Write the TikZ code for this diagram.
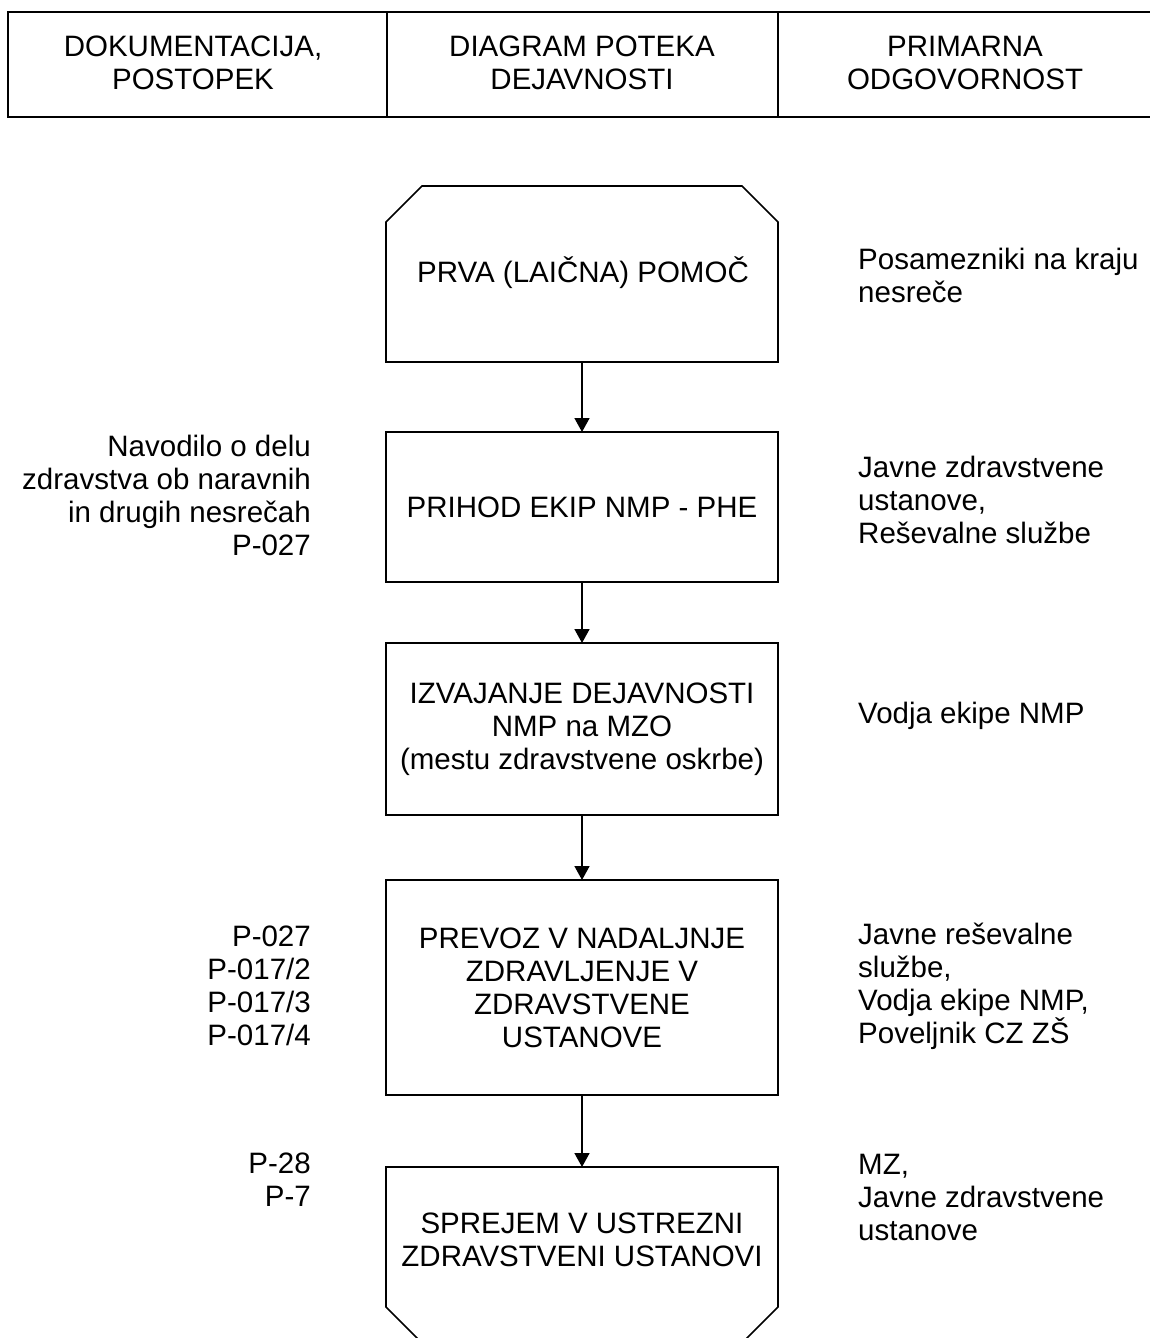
\documentclass[tikz,border=0pt]{standalone}
\usepackage{fontspec}
\setmainfont{Liberation Sans}
\usetikzlibrary{arrows.meta}
\begin{document}
\begin{tikzpicture}[x=1pt,y=1pt,
  every node/.style={font=\fontsize{29.5}{33}\selectfont, inner sep=0pt},
  frame/.style={line width=1.6pt, line join=miter},
  boxnode/.style={minimum width=392pt, inner sep=0pt, outer sep=0pt},
  flow/.style={line width=1.6pt, -{Triangle[length=14pt,width=15pt]}},
  lefttxt/.style={anchor=east, align=right},
  righttxt/.style={anchor=west, align=left},
  hdr/.style={align=center}]
\useasboundingbox (0,0) rectangle (1150,-1338);
\fill[white] (0,0) rectangle (1150,-1338);

% header
\coordinate (hTL) at (8,-12);
\coordinate (hBL) at (8,-117);
\coordinate (hTR) at (1150,-12);
\coordinate (hBR) at (1150,-117);
\coordinate (d1t) at (387,-12);
\coordinate (d1b) at (387,-117);
\coordinate (d2t) at (778,-12);
\coordinate (d2b) at (778,-117);
\draw[frame] (hTR) -- (hTL) -- (hBL) -- (hBR);
\draw[frame] (d1t) -- (d1b);
\draw[frame] (d2t) -- (d2b);
\node[hdr] (h1) at (193,-63) {DOKUMENTACIJA,\\POSTOPEK};
\node[hdr] (h2) at (582,-63) {DIAGRAM POTEKA\\DEJAVNOSTI};
\node[hdr] (h3) at (965,-63) {PRIMARNA\\ODGOVORNOST};

% box 1 (chamfered top)
\node[boxnode, minimum height=176pt] (b1) at (582,-274) {};
\draw[frame] (b1.south west) -- ([yshift=-36pt]b1.north west) -- ([xshift=36pt]b1.north west)
  -- ([xshift=-36pt]b1.north east) -- ([yshift=-36pt]b1.north east) -- (b1.south east) -- cycle;
\node (t1) at (583,-273) {PRVA (LAIČNA) POMOČ};

% box 2
\node[boxnode, minimum height=150pt, draw, frame] (b2) at (582,-507) {PRIHOD EKIP NMP - PHE};

% box 3
\node[boxnode, minimum height=172pt, draw, frame, align=center] (b3) at (582,-729)
  {IZVAJANJE DEJAVNOSTI\\NMP na MZO\\(mestu zdravstvene oskrbe)};

% box 4
\node[boxnode, minimum height=215pt, draw, frame, align=center] (b4) at (582,-987.5)
  {PREVOZ V NADALJNJE\\ZDRAVLJENJE V\\ZDRAVSTVENE\\USTANOVE};

% box 5 (chamfered bottom)
\node[boxnode, minimum height=176pt] (b5) at (582,-1255) {};
\begin{scope}
\clip (0,0) rectangle (1150,-1338);
\draw[frame] (b5.north west) -- ([yshift=36pt]b5.south west) -- ([xshift=36pt]b5.south west)
  -- ([xshift=-36pt]b5.south east) -- ([yshift=36pt]b5.south east) -- (b5.north east) -- cycle;
\end{scope}
\node[align=center] (t5) at (582,-1240) {SPREJEM V USTREZNI\\ZDRAVSTVENI USTANOVI};

% arrows
\draw[flow] (b1.south) -- (b2.north);
\draw[flow] (b2.south) -- (b3.north);
\draw[flow] (b3.south) -- (b4.north);
\draw[flow] (b4.south) -- (b5.north);

% left column
\node[lefttxt] (l2) at (311,-495) {Navodilo o delu\\zdravstva ob naravnih\\in drugih nesrečah\\P-027};
\node[lefttxt] (l4) at (311,-986) {P-027\\P-017/2\\P-017/3\\P-017/4};
\node[lefttxt] (l5) at (311,-1180) {P-28\\P-7};

% right column
\node[righttxt] (r1) at (858,-275) {Posamezniki na kraju\\nesreče};
\node[righttxt] (r2) at (858,-500) {Javne zdravstvene\\ustanove,\\Reševalne službe};
\node[righttxt] (r3) at (858,-716) {Vodja ekipe NMP};
\node[righttxt] (r4) at (858,-986) {Javne reševalne\\službe,\\Vodja ekipe NMP,\\Poveljnik CZ ZŠ};
\node[righttxt] (r5) at (858,-1197) {MZ,\\Javne zdravstvene\\ustanove};
\end{tikzpicture}
\end{document}
